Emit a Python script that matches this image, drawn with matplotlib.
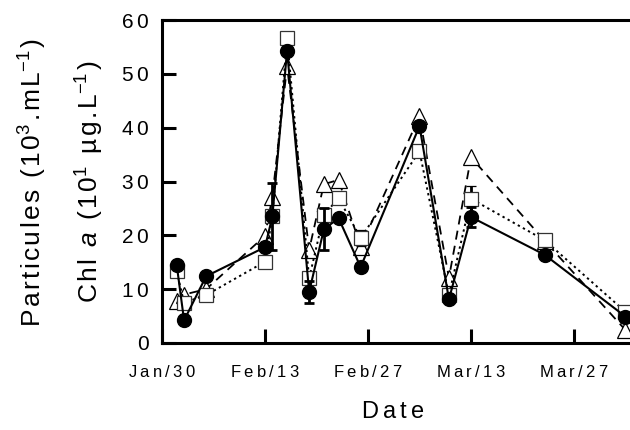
import matplotlib
matplotlib.use("Agg")
import matplotlib.pyplot as plt
import matplotlib.dates as mdates
from matplotlib.ticker import FuncFormatter
import numpy as np
import datetime as dt

plt.rcParams['font.family'] = ['Liberation Sans', 'DejaVu Sans']
plt.rcParams['mathtext.fontset'] = 'custom'
plt.rcParams['mathtext.rm'] = 'Liberation Sans'
plt.rcParams['mathtext.it'] = 'Liberation Sans:italic'

# ---- data ----
dates = ["2001-02-01", "2001-02-02", "2001-02-05", "2001-02-13", "2001-02-14",
         "2001-02-16", "2001-02-19", "2001-02-21", "2001-02-23", "2001-02-26",
         "2001-03-06", "2001-03-10", "2001-03-13", "2001-03-23", "2001-04-03"]
circles = [14.5, 4.2, 12.4, 17.8, 23.5, 54.3, 9.5, 21.1, 23.2, 14.1, 40.3, 8.1, 23.4, 16.4, 4.9]
circles_err = [0, 0, 0, 0, 6.3, 0, 2.1, 3.9, 0, 0, 0, 0, 1.8, 0, 0]
squares = [13.3, 7.5, 8.9, 15.1, 23.5, 56.6, 12.0, 23.8, 26.9, 19.5, 35.6, 8.9, 26.8, 19.1, 5.8]
squares_err = [0, 0, 0, 0, 0, 0, 0, 0, 0, 1.4, 0, 0, 2.4, 0, 0]
triangles = [7.8, 9.0, 10.0, 19.9, 27.2, 51.4, 17.3, 29.5, 30.3, 17.9, 42.1, 12.1, 34.5, 19.0, 2.4]
tick_dates = ["2001-01-30", "2001-02-13", "2001-02-27", "2001-03-13", "2001-03-27"]
y_ticks = [0, 10, 20, 30, 40, 50, 60]

x = [dt.datetime.strptime(d, "%Y-%m-%d") for d in dates]
xt = [dt.datetime.strptime(d, "%Y-%m-%d") for d in tick_dates]


def tok(c):
    if c == ' ':
        return r'\ '
    if c == '.':
        return r'\mathrm{.}\hspace{-0.2}'
    return r'\mathrm{%s}' % c


def spaced_tokens(tokens, sp):
    return '$' + (r'\hspace{%g}' % sp).join(tokens) + '$'


def spaced(s, sp):
    return spaced_tokens([tok(c) for c in s], sp)


fig = plt.figure(figsize=(6.3, 4.3), dpi=100)
left = 162 / 630
bottom = 1 - 343 / 430
height = (343 - 20) / 430
width = (64 * 7.357) / 630
ax = fig.add_axes([left, bottom, width, height])

ms = 10
# triangles, dashed
ax.plot(x, triangles, linestyle=(0, (5, 3.5)), color='black', lw=1.3,
        marker='^', ms=ms + 1, mfc='white', mec='black', mew=0.9, zorder=2)
# squares, dotted
ax.errorbar(x, squares, yerr=[e if e > 0 else np.nan for e in squares_err],
            linestyle=(0, (1.2, 1.8)), color='black', lw=1.4, ecolor='black',
            elinewidth=2, capsize=3.5, capthick=2,
            marker='s', ms=ms, mfc='white', mec='#333333', mew=0.9, zorder=3)
# circles, solid
ax.errorbar(x, circles, yerr=[e if e > 0 else np.nan for e in circles_err],
            linestyle='-', color='black', lw=1.5, ecolor='black',
            elinewidth=2, capsize=3.5, capthick=2,
            marker='o', ms=ms, mfc='black', mec='black', zorder=4)

ax.set_xlim(dt.datetime(2001, 1, 30), dt.datetime(2001, 1, 30) + dt.timedelta(days=64))
ax.set_ylim(0, 60)
ax.set_xticks(xt)
datefmt = mdates.DateFormatter('%b/%d')
ax.xaxis.set_major_formatter(FuncFormatter(lambda v, p: spaced(datefmt(v, p), 0.24)))
ax.set_yticks(y_ticks)
ax.yaxis.set_major_formatter(FuncFormatter(lambda v, p: spaced('%d' % v, 0.22)))

for s in ['left', 'bottom', 'top']:
    ax.spines[s].set_linewidth(2.2)
ax.spines['right'].set_visible(False)
ax.tick_params(axis='both', direction='in', length=10, width=2.2)
ax.tick_params(axis='y', labelsize=15, pad=9)
ax.tick_params(axis='x', labelsize=12, pad=15)

fig.text(393 / 630, 1 - 412 / 430, spaced('Date', 0.22), fontsize=17,
         ha='center', va='center')

lab1 = [tok(c) for c in 'Particules'] + [r'\ ', tok('('), tok('1'), r'\mathrm{0}^{3}',
        tok('.'), tok('m'), r'\mathrm{L}^{-1}', tok(')')]
lab2 = [tok(c) for c in 'Chl'] + [r'\ ', r'\mathit{a}', r'\ ', tok('('), tok('1'),
        r'\mathrm{0}^{1}', r'\ ', tok('µ'), tok('g'), tok('.'), r'\mathrm{L}^{-1}', tok(')')]
fig.text(33 / 630, 1 - 183 / 430, spaced_tokens(lab1, 0.11), fontsize=19,
         rotation=90, ha='center', va='center')
fig.text(90 / 630, 1 - 182 / 430, spaced_tokens(lab2, 0.11), fontsize=19,
         rotation=90, ha='center', va='center')

fig.savefig('out.png', dpi=100)
